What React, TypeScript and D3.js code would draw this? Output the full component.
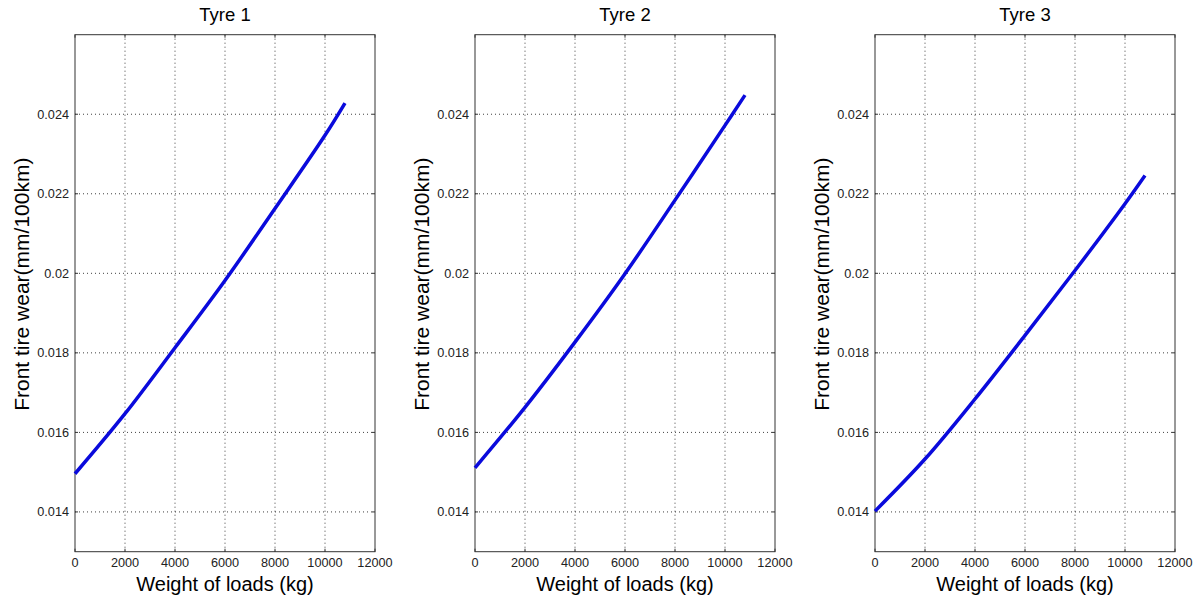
import React from "react";
import * as d3 from "d3";

const titles = ["Tyre 1", "Tyre 2", "Tyre 3"];
const loads = [0, 2000, 4000, 6000, 8000, 10000, 10800];
const tyre1 = [0.01496, 0.01647, 0.01813, 0.01982, 0.02163, 0.02347, 0.02428];
const tyre2 = [0.01511, 0.01663, 0.01827, 0.01999, 0.02184, 0.02372, 0.02448];
const tyre3 = [0.01402, 0.01533, 0.01684, 0.01844, 0.02007, 0.02175, 0.02246];
const series = [tyre1, tyre2, tyre3];
const xTicks = [0, 2000, 4000, 6000, 8000, 10000, 12000];
const yTicks = [0.014, 0.016, 0.018, 0.02, 0.022, 0.024];
const yTickLabels = ["0.014", "0.016", "0.018", "0.02", "0.022", "0.024"];
const xDomain = [0, 12000];
const yDomain = [0.013, 0.026];

const W = 1198;
const H = 598;
const panelLefts = [75, 475, 875];
const panelW = 300;
const top = 34.7;
const bottom = 551.7;
const font = "'Liberation Sans', Arial, sans-serif";

function Panel({ idx }: { idx: number }) {
  const left = panelLefts[idx];
  const x = d3.scaleLinear().domain(xDomain).range([left, left + panelW]);
  const y = d3.scaleLinear().domain(yDomain).range([bottom, top]);
  const data = loads.map((l, i) => [l, series[idx][i]] as [number, number]);
  const line = d3
    .line<[number, number]>()
    .x((d) => x(d[0]))
    .y((d) => y(d[1]))
    .curve(d3.curveCatmullRom);
  const grid = "#000";
  return (
    <g>
      {xTicks
        .filter((t) => t > xDomain[0] && t < xDomain[1])
        .map((t) => (
          <line
            key={"gx" + t}
            x1={x(t)}
            x2={x(t)}
            y1={top}
            y2={bottom}
            stroke={grid}
            strokeOpacity={0.75}
            strokeWidth={1}
            strokeDasharray="1,3"
          />
        ))}
      {yTicks.map((t) => (
        <line
          key={"gy" + t}
          x1={left}
          x2={left + panelW}
          y1={y(t)}
          y2={y(t)}
          stroke={grid}
          strokeOpacity={0.75}
          strokeWidth={1}
          strokeDasharray="1,3"
        />
      ))}
      {xTicks.map((t) => (
        <g key={"tx" + t}>
          <line x1={x(t)} x2={x(t)} y1={bottom} y2={bottom - 3} stroke="#333" />
          <line x1={x(t)} x2={x(t)} y1={top} y2={top + 3} stroke="#333" />
          <text
            x={x(t)}
            y={567}
            textAnchor="middle"
            fontFamily={font}
            fontSize={12.7}
            fill="#222"
          >
            {t}
          </text>
        </g>
      ))}
      {yTicks.map((t, i) => (
        <g key={"ty" + t}>
          <line x1={left} x2={left + 3} y1={y(t)} y2={y(t)} stroke="#333" />
          <line
            x1={left + panelW}
            x2={left + panelW - 3}
            y1={y(t)}
            y2={y(t)}
            stroke="#333"
          />
          <text
            x={left - 6}
            y={y(t) + 4.5}
            textAnchor="end"
            fontFamily={font}
            fontSize={12.7}
            fill="#222"
          >
            {yTickLabels[i]}
          </text>
        </g>
      ))}
      <rect
        x={left}
        y={top}
        width={panelW}
        height={bottom - top}
        fill="none"
        stroke="#333"
        strokeWidth={1}
      />
      <path d={line(data) || ""} fill="none" stroke="#0a0adc" strokeWidth={3.5} />
      <text
        x={left + panelW / 2}
        y={21}
        textAnchor="middle"
        fontFamily={font}
        fontSize={18.5}
        fill="#000"
      >
        {titles[idx]}
      </text>
      <text
        x={left + panelW / 2}
        y={591}
        textAnchor="middle"
        fontFamily={font}
        fontSize={20}
        fill="#000"
      >
        Weight of loads (kg)
      </text>
      <text
        transform={`translate(${left - 46},${(top + bottom) / 2 - 9}) rotate(-90)`}
        textAnchor="middle"
        fontFamily={font}
        fontSize={21}
        fill="#000"
      >
        Front tire wear(mm/100km)
      </text>
    </g>
  );
}

export default function App() {
  return (
    <svg
      width={W}
      height={H}
      style={{ position: "absolute", left: 0, top: 0, background: "#fff" }}
    >
      <rect x={0} y={0} width={W} height={H} fill="#fff" />
      {titles.map((_, i) => (
        <Panel key={i} idx={i} />
      ))}
    </svg>
  );
}
